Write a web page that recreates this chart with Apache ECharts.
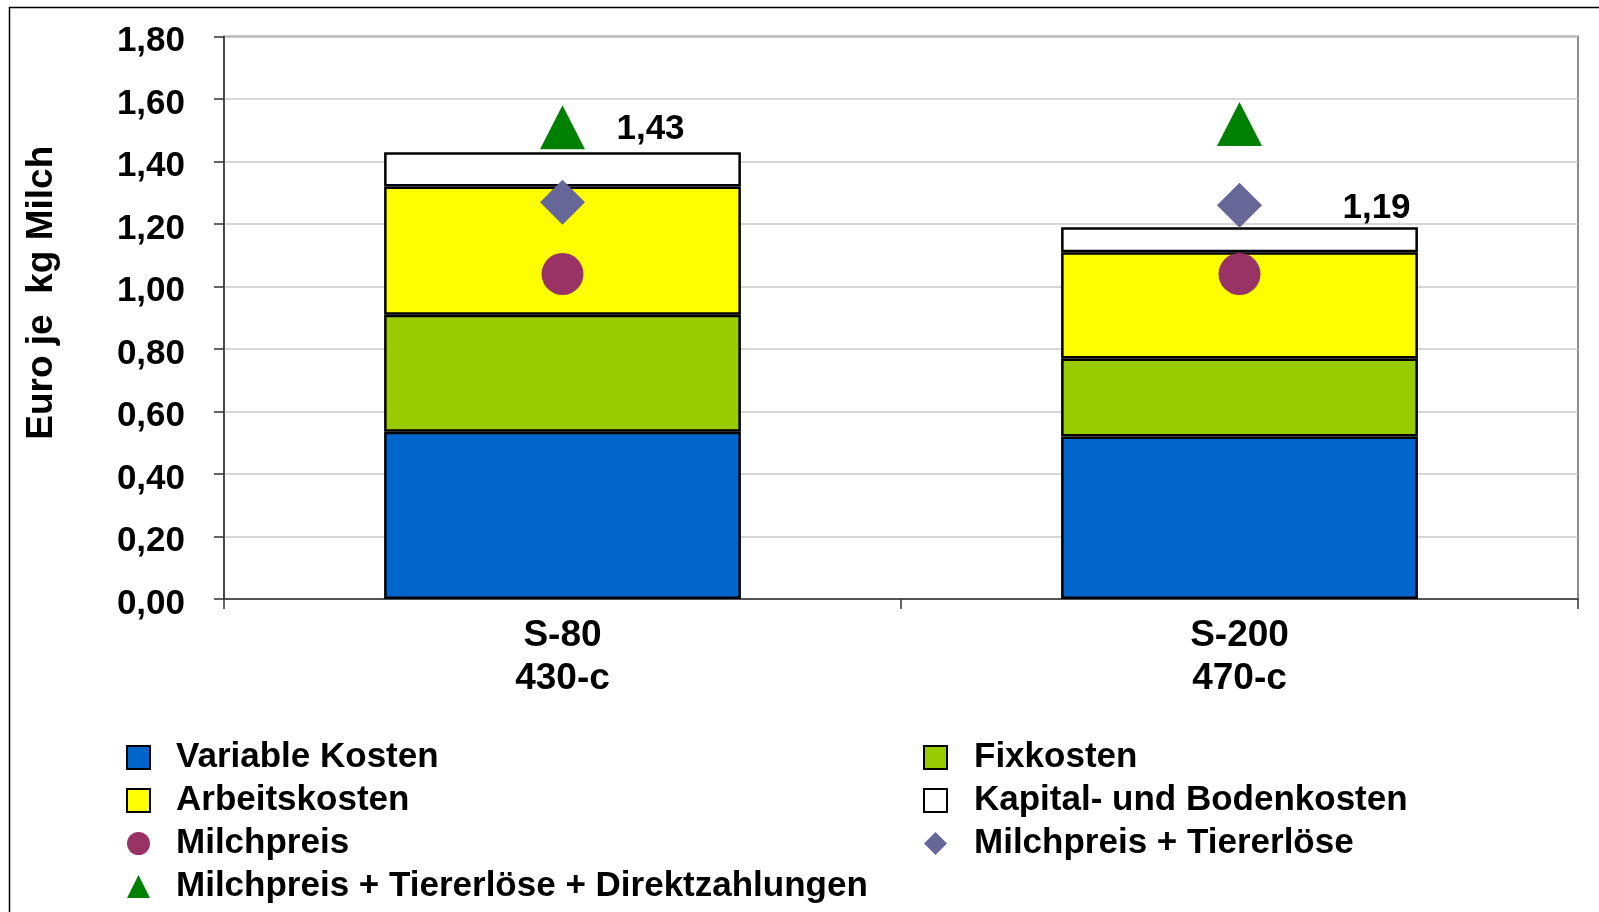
<!DOCTYPE html>
<html>
<head>
<meta charset="utf-8">
<script src="https://cdn.jsdelivr.net/npm/echarts@6/dist/echarts.min.js"></script>
<style>
html,body{margin:0;padding:0;background:#fff;}
#chart{width:1599px;height:912px;}
</style>
</head>
<body>
<div id="chart"></div>
<script>
const categories = ['S-80\n430-c', 'S-200\n470-c'];
const variableKosten = [0.535, 0.52];
const fixkosten = [0.375, 0.25];
const arbeitskosten = [0.41, 0.34];
const kapitalBodenkosten = [0.11, 0.08];
const milchpreis = [1.04, 1.04];
const milchpreisTiererloese = [1.27, 1.26];
const milchpreisTiererloeseDirekt = [1.51, 1.52];
const yTicks = {min: 0, max: 1.8, interval: 0.2};

const FONT = "'Liberation Sans', Arial, sans-serif";
const totals = categories.map((c, i) => variableKosten[i] + fixkosten[i] + arbeitskosten[i] + kapitalBodenkosten[i]);
const totalLabelOffsets = [[88, -5], [137, -1]];
const fmt = v => v.toFixed(2).replace('.', ',');

const barBorder = {borderColor: '#000', borderWidth: 2.5};
function barSeries(name, data, color) {
  return {
    name, type: 'bar', stack: 'k', data,
    barWidth: '52.7%',
    itemStyle: Object.assign({color}, barBorder),
    emphasis: {disabled: true}
  };
}

const chart = echarts.init(document.getElementById('chart'));
const legendText = {fontSize: 35, fontWeight: 'bold', fontFamily: FONT, color: '#000', lineHeight: 43, padding: [0, 0, 0, 21]};

chart.setOption({
  animation: false,
  backgroundColor: '#fff',
  graphic: [{
    type: 'rect', shape: {x: 9.5, y: 7.5, width: 1700, height: 1000},
    style: {fill: 'none', stroke: '#000', lineWidth: 1.5}, silent: true, z: 100
  }],
  grid: {left: 224, right: 21, top: 36.5, bottom: 313, show: true, borderColor: '#8c8c8c', borderWidth: 2, backgroundColor: '#fff'},
  legend: [{
    orient: 'vertical', left: 126, top: 736, padding: 0, itemGap: 0,
    itemWidth: 23, itemHeight: 23, selectedMode: false,
    textStyle: legendText,
    data: [
      {name: 'Variable Kosten', icon: 'rect'},
      {name: 'Arbeitskosten', icon: 'rect'},
      {name: 'Milchpreis'},
      {name: 'Milchpreis + Tiererlöse + Direktzahlungen'}
    ]
  }, {
    orient: 'vertical', left: 923, top: 736, padding: 0, itemGap: 0,
    itemWidth: 23, itemHeight: 23, selectedMode: false,
    textStyle: Object.assign({}, legendText, {padding: [0, 0, 0, 22]}),
    data: [
      {name: 'Fixkosten', icon: 'rect'},
      {name: 'Kapital- und Bodenkosten', icon: 'rect'},
      {name: 'Milchpreis + Tiererlöse'}
    ]
  }],
  xAxis: {
    type: 'category', data: categories,
    axisLine: {show: true, lineStyle: {color: '#333', width: 1.5}},
    axisTick: {show: true, length: 10, lineStyle: {color: '#333', width: 1.5}},
    axisLabel: {fontSize: 37, fontWeight: 'bold', fontFamily: FONT, color: '#000', lineHeight: 43, margin: 15}
  },
  yAxis: {
    type: 'value', min: yTicks.min, max: yTicks.max, interval: yTicks.interval,
    name: 'Euro je  kg Milch', nameLocation: 'middle', nameGap: 164,
    nameTextStyle: {fontSize: 37, fontWeight: 'bold', fontFamily: FONT, color: '#000', padding: [0, 0, 0, 50]},
    axisLine: {show: true, lineStyle: {color: '#333', width: 1.5}},
    axisTick: {show: true, length: 10, lineStyle: {color: '#333', width: 1.5}},
    axisLabel: {fontSize: 35, fontWeight: 'bold', fontFamily: FONT, color: '#000', margin: 39,
      verticalAlign: 'top', lineHeight: 10, formatter: v => fmt(v)},
    splitLine: {show: true, lineStyle: {color: '#c8c8c8', width: 1.5}}
  },
  series: [
    barSeries('Variable Kosten', variableKosten, '#0066CC'),
    barSeries('Fixkosten', fixkosten, '#99CC00'),
    barSeries('Arbeitskosten', arbeitskosten, '#FFFF00'),
    Object.assign(barSeries('Kapital- und Bodenkosten', kapitalBodenkosten.map((v, i) => ({
      value: v, label: {offset: totalLabelOffsets[i]}
    })), '#FFFFFF'), {
      label: {show: true, position: 'top', distance: 0, fontSize: 35, fontWeight: 'bold', fontFamily: FONT, color: '#000',
        formatter: p => fmt(totals[p.dataIndex])}
    }),
    {name: 'Milchpreis + Tiererlöse + Direktzahlungen', type: 'scatter', data: milchpreisTiererloeseDirekt,
      symbol: 'triangle', symbolSize: [45, 44], itemStyle: {color: '#008000', opacity: 1}, z: 3},
    {name: 'Milchpreis + Tiererlöse', type: 'scatter', data: milchpreisTiererloese,
      symbol: 'diamond', symbolSize: [45, 45], itemStyle: {color: '#666699', opacity: 1}, z: 3},
    {name: 'Milchpreis', type: 'scatter', data: milchpreis,
      symbol: 'circle', symbolSize: 42, itemStyle: {color: '#993366', opacity: 1}, z: 3}
  ]
});
</script>
</body>
</html>
